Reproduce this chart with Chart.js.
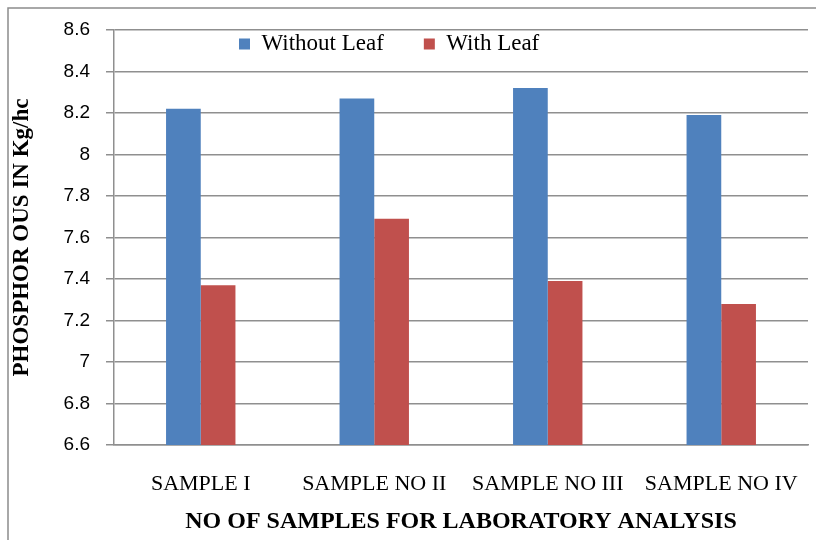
<!DOCTYPE html>
<html><head><meta charset="utf-8">
<script src="https://cdn.jsdelivr.net/npm/chart.js@4"></script>
<style>html,body{margin:0;padding:0;background:#fff}#wrap{position:relative;width:816px;height:540px}</style>
</head><body><div id="wrap"><canvas id="c" width="816" height="540"></canvas></div>
<script>
const categories = ['SAMPLE I', 'SAMPLE NO II', 'SAMPLE NO III', 'SAMPLE NO IV'];
const withoutLeaf = [8.22, 8.27, 8.32, 8.19];
const withLeaf = [7.37, 7.69, 7.39, 7.28];
const seriesNames = ['Without Leaf', 'With Leaf'];
const yMin = 6.6, yMax = 8.6, yStep = 0.2;
const xTitle = 'NO OF SAMPLES FOR LABORATORY ANALYSIS';
const yTitle = 'PHOSPHOR OUS IN Kg/hc';

const GRID = '#8f8f8f';
const framePlugin = {
  id: 'frame',
  beforeDraw(chart) {
    const ctx = chart.ctx;
    ctx.save();
    ctx.fillStyle = '#fff';
    ctx.fillRect(0, 0, chart.width, chart.height);
    ctx.strokeStyle = '#8c8c8c';
    ctx.lineWidth = 1.5;
    ctx.strokeRect(8, 8, 840, 580);
    ctx.restore();
  }
};
const legendPlugin = {
  id: 'legendPos',
  afterInit(chart) {
    const lg = chart.legend;
    const orig = lg.fit.bind(lg);
    lg.fit = function () { orig(); this._realH = this.height; this.height = 0; };
  },
  afterLayout(chart) {
    const lg = chart.legend;
    const pad = lg.options.labels.padding;
    const w = lg.width;
    lg.left = 239 - pad;
    lg.right = lg.left + w;
    lg.top = 32.5 - pad;
    lg.height = lg._realH || 60;
    lg.bottom = lg.top + lg.height;
  }
};

new Chart(document.getElementById('c'), {
  type: 'bar',
  data: {
    labels: categories,
    datasets: [
      { label: seriesNames[0], data: withoutLeaf, backgroundColor: '#4F81BD' },
      { label: seriesNames[1], data: withLeaf, backgroundColor: '#C0504D' }
    ]
  },
  options: {
    responsive: false,
    animation: false,
    devicePixelRatio: 1,
    layout: { padding: { left: 0, top: 30, right: 8, bottom: 0 } },
    datasets: { bar: { categoryPercentage: 0.4, barPercentage: 1 } },
    plugins: {
      legend: {
        position: 'top',
        align: 'start',
        labels: {
          boxWidth: 11, boxHeight: 11, padding: 40, color: '#000',
          font: { family: 'Liberation Serif', size: 23 }
        }
      },
      tooltip: { enabled: false }
    },
    scales: {
      x: {
        grid: { display: false, drawTicks: false },
        border: { display: true, color: GRID, width: 1.5 },
        ticks: { color: '#000', padding: 26, maxRotation: 0, font: { family: 'Liberation Serif', size: 22 } },
        title: { display: true, text: xTitle, color: '#000', padding: { top: 0, bottom: 4 },
                 font: { family: 'Liberation Serif', size: 24, weight: 'bold' } },
        afterFit(s) { s.height = 95; s.paddingLeft = 0; s.paddingRight = 0; }
      },
      y: {
        min: yMin, max: yMax,
        grid: { color: GRID, lineWidth: 1.5, tickLength: 8 },
        border: { display: true, color: GRID, width: 1.5 },
        ticks: { stepSize: yStep, color: '#000', padding: 16,
                 font: { family: 'Liberation Sans', size: 19 },
                 callback: v => String(+(+v).toFixed(1)) },
        title: { display: true, text: yTitle, color: '#000', padding: { top: 8, bottom: 0 },
                 font: { family: 'Liberation Serif', size: 23, weight: 'bold' } },
        afterFit(s) { s.width = 114; }
      }
    }
  },
  plugins: [framePlugin, legendPlugin]
});
</script></body></html>
